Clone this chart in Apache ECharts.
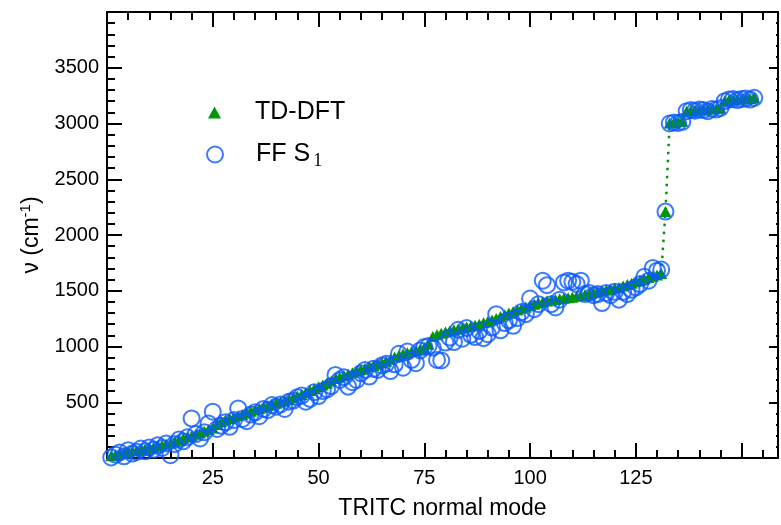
<!DOCTYPE html>
<html>
<head>
<meta charset="utf-8">
<script src="https://cdn.jsdelivr.net/npm/echarts@6/dist/echarts.min.js"></script>
<style>html,body{margin:0;padding:0;background:#fff;}#c{width:781px;height:525px;}</style>
</head>
<body>
<div id="c"></div>
<script>
// TRITC normal mode numbers
const modes = [
  1,2,3,4,5,6,7,8,9,10,11,12,13,14,15,16,17,18,19,20,
  21,22,23,24,25,26,27,28,29,30,31,32,33,34,35,36,37,38,39,40,
  41,42,43,44,45,46,47,48,49,50,51,52,53,54,55,56,57,58,59,60,
  61,62,63,64,65,66,67,68,69,70,71,72,73,74,75,76,77,78,79,80,
  81,82,83,84,85,86,87,88,89,90,91,92,93,94,95,96,97,98,99,100,
  101,102,103,104,105,106,107,108,109,110,111,112,113,114,115,116,117,118,119,120,
  121,122,123,124,125,126,127,128,129,130,131,132,133,134,135,136,137,138,139,140,
  141,142,143,144,145,146,147,148,149,150,151,152,153
];
// TD-DFT frequencies (cm^-1)
const tddft = [
  20,30,40,48,55,62,68,74,80,88,
  96,105,115,125,135,148,160,175,188,200,
  212,225,240,255,270,300,325,340,352,365,
  378,390,405,420,432,445,458,470,482,492,
  502,512,525,540,555,570,588,605,622,640,
  655,670,690,712,725,740,752,765,780,792,
  805,818,830,842,855,868,885,905,920,935,
  945,955,965,975,990,1020,1090,1105,1118,1130,
  1140,1150,1158,1166,1174,1182,1190,1200,1212,1225,
  1238,1252,1268,1285,1300,1315,1328,1342,1355,1368,
  1380,1390,1400,1408,1415,1422,1428,1433,1438,1442,
  1450,1458,1466,1474,1482,1490,1498,1506,1514,1522,
  1530,1542,1555,1568,1580,1592,1605,1618,1630,1642,
  1655,2210,3005,3010,3015,3020,3110,3115,3120,3120,
  3125,3130,3130,3135,3140,3205,3210,3215,3220,3220,
  3225,3225,3230
];
// FF S1 frequencies (cm^-1)
const ffS1 = [
  5,30,50,15,70,40,55,85,60,95,
  75,115,90,130,25,125,165,150,185,355,
  215,175,230,310,415,260,290,320,280,340,
  445,350,330,390,410,375,440,430,475,460,
  480,440,505,515,545,560,505,530,590,555,
  600,615,645,745,700,725,640,680,700,760,
  790,730,800,790,830,845,780,840,935,810,
  955,880,850,965,995,1005,990,880,875,1035,
  1080,1040,1150,1070,1165,1105,1085,1140,1075,1110,
  1170,1290,1145,1210,1235,1185,1255,1310,1290,1430,
  1335,1380,1590,1550,1380,1350,1420,1575,1590,1580,
  1560,1590,1470,1480,1460,1470,1390,1480,1460,1490,
  1420,1490,1470,1510,1530,1560,1625,1590,1705,1680,
  1690,2210,3000,3010,3005,3015,3110,3120,3115,3125,
  3120,3110,3130,3125,3140,3200,3215,3220,3210,3220,
  3225,3215,3230
];
const xTickLabels = ['25','50','75','100','125'];
const yTickLabels = ['500','1000','1500','2000','2500','3000','3500'];

const FONT = 'Liberation Sans, Arial, sans-serif';
const GREEN = '#00960a';
const BLUE = '#0a5aff';

const tdData = modes.map((m, i) => [m, tddft[i]]);
const ffData = modes.map((m, i) => [m, ffS1[i]]);

const chart = echarts.init(document.getElementById('c'), null, {renderer: 'canvas'});

const baseX = {
  type: 'value', min: 0, max: 158.6, interval: 25,
  splitLine: {show: false},
  axisLine: {show: true, onZero: false, lineStyle: {color: '#000', width: 2}},
  axisTick: {show: true, inside: true, length: 15, lineStyle: {color: '#000', width: 2}},
  minorTick: {show: true, splitNumber: 5, length: 8, lineStyle: {color: '#000', width: 2}},
  minorSplitLine: {show: false}
};
const baseY = {
  type: 'value', min: 0, max: 4000, interval: 500,
  splitLine: {show: false},
  axisLine: {show: true, onZero: false, lineStyle: {color: '#000', width: 2}},
  axisTick: {show: true, inside: true, length: 15, lineStyle: {color: '#000', width: 2}},
  minorTick: {show: true, splitNumber: 5, length: 8, lineStyle: {color: '#000', width: 2}},
  minorSplitLine: {show: false}
};

const option = {
  animation: false,
  backgroundColor: '#fff',
  grid: {left: 107, top: 12, right: 0, bottom: 59, containLabel: false},
  legend: [
    {
      left: 203, top: 95, orient: 'vertical',
      itemWidth: 13, itemHeight: 12,
      data: [{name: 'TD-DFT', icon: 'triangle', itemStyle: {color: GREEN, borderWidth: 0}}],
      textStyle: {fontFamily: FONT, fontSize: 25, color: '#000', padding: [0, 0, 0, 29]}
    },
    {
      left: 201, top: 137, orient: 'vertical',
      itemWidth: 16, itemHeight: 16,
      data: [{name: 'FF S1', icon: 'circle', itemStyle: {color: 'rgba(0,0,0,0)', borderColor: BLUE, borderWidth: 2}}],
      formatter: () => '{b|FF S}{s|1}',
      textStyle: {
        fontFamily: FONT, fontSize: 25, color: '#000', padding: [0, 0, 0, 28],
        rich: {
          b: {fontFamily: FONT, fontSize: 25, color: '#000'},
          s: {fontFamily: 'Liberation Serif, Times New Roman, serif', fontSize: 18, color: '#000', padding: [14, 0, 0, 3]}
        }
      }
    }
  ],
  xAxis: [
    Object.assign({}, baseX, {
      position: 'bottom',
      name: 'TRITC normal mode', nameLocation: 'middle', nameGap: 39,
      nameTextStyle: {fontFamily: FONT, fontSize: 23, color: '#000'},
      axisLabel: {
        show: true, margin: 10, fontFamily: FONT, fontSize: 20, color: '#000',
        formatter: v => (xTickLabels.indexOf(String(v)) >= 0 ? String(v) : '')
      }
    }),
    Object.assign({}, baseX, {
      position: 'top',
      axisLabel: {show: false}
    })
  ],
  yAxis: [
    Object.assign({}, baseY, {
      position: 'left',
      name: 'ν (cm{sup|-1})', nameLocation: 'middle', nameGap: 60, nameRotate: 90,
      nameTextStyle: {
        fontFamily: FONT, fontSize: 23, color: '#000',
        rich: {sup: {fontFamily: FONT, fontSize: 15, color: '#000', padding: [0, 0, 12, 0]}}
      },
      axisLabel: {
        show: true, margin: 8, fontFamily: FONT, fontSize: 20, color: '#000',
        formatter: v => (yTickLabels.indexOf(String(v)) >= 0 ? String(v) : '')
      }
    }),
    Object.assign({}, baseY, {
      position: 'right',
      axisLabel: {show: false},
      axisTick: {show: true, inside: true, length: 9, lineStyle: {color: '#000', width: 2}},
      minorTick: {show: true, splitNumber: 5, length: 2, lineStyle: {color: '#000', width: 2}}
    })
  ],
  series: [
    {
      name: 'TD-DFT', type: 'line', xAxisIndex: 0, yAxisIndex: 0,
      data: tdData,
      symbol: 'triangle', symbolSize: [12, 11], showSymbol: true, showAllSymbol: true,
      itemStyle: {color: GREEN, borderWidth: 0},
      lineStyle: {color: GREEN, width: 2.5, type: [2.5, 5.5]},
      z: 2
    },
    {
      name: 'FF S1', type: 'scatter', xAxisIndex: 0, yAxisIndex: 0,
      data: ffData,
      symbol: 'circle', symbolSize: 16,
      itemStyle: {color: 'rgba(0,0,0,0)', borderColor: BLUE, borderWidth: 2},
      z: 3
    }
  ]
};
chart.setOption(option);
</script>
</body>
</html>
